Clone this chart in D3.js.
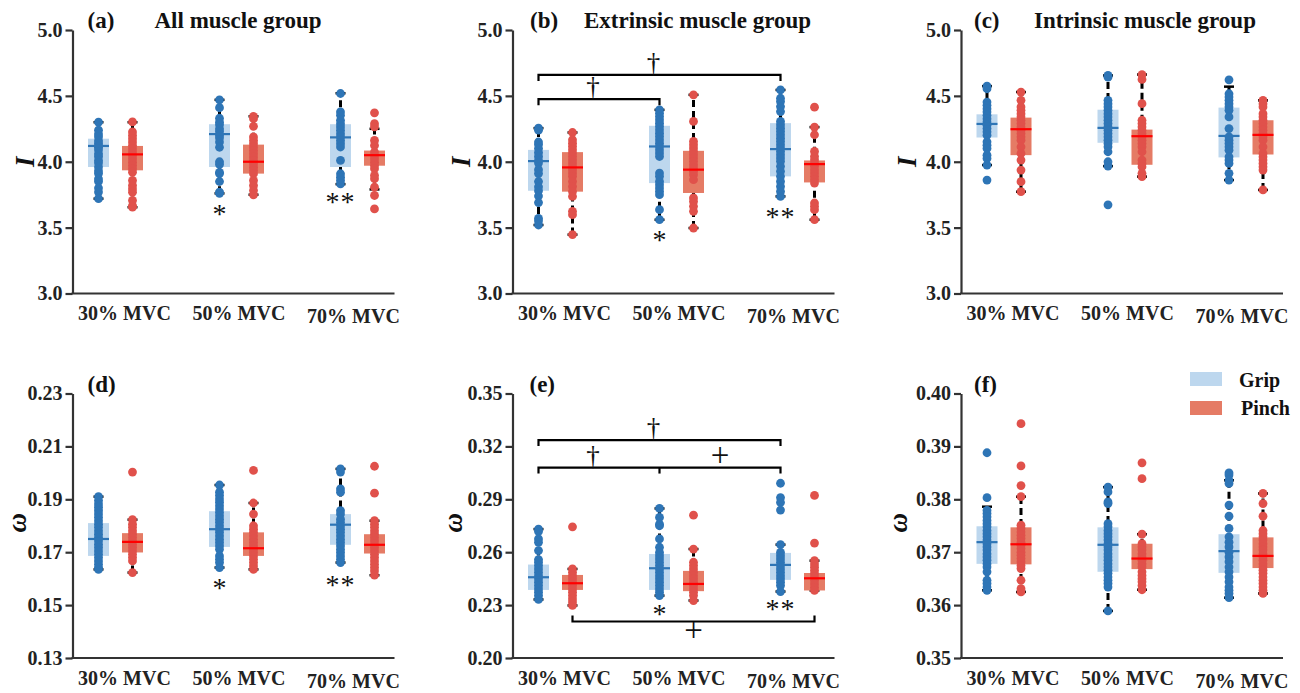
<!DOCTYPE html>
<html><head><meta charset="utf-8">
<script src="https://cdn.jsdelivr.net/npm/d3@7"></script>
<style>body{margin:0;background:#fff}svg{display:block}</style>
</head><body>
<svg id="chart" width="1300" height="693"></svg>
<script>
// ---------------- DATA ----------------
const categories = ["30% MVC", "50% MVC", "70% MVC"];
const series = ["Grip", "Pinch"];
const panelLetters = ["(a)", "(b)", "(c)", "(d)", "(e)", "(f)"];
const panelTitles = ["All muscle group", "Extrinsic muscle group", "Intrinsic muscle group", "", "", ""];
const yLabels = ["I", "I", "I", "ω", "ω", "ω"];
const yDomains = [[3, 5], [3, 5], [3, 5], [0.13, 0.23], [0.20, 0.35], [0.35, 0.40]];
const yTicks = [
  [3.0, 3.5, 4.0, 4.5, 5.0], [3.0, 3.5, 4.0, 4.5, 5.0], [3.0, 3.5, 4.0, 4.5, 5.0],
  [0.13, 0.15, 0.17, 0.19, 0.21, 0.23], [0.20, 0.23, 0.26, 0.29, 0.32, 0.35],
  [0.35, 0.36, 0.37, 0.38, 0.39, 0.40]
];
const tickFormats = [".1f", ".1f", ".1f", ".2f", ".2f", ".2f"];

// points per panel: [30%, 50%, 70%]
const gripA = [
  [4.30, 4.24, 4.21, 4.19, 4.16, 4.14, 4.12, 4.11, 4.09, 4.06, 4.04, 4.01, 3.99, 3.96, 3.93, 3.91, 3.87, 3.85, 3.80, 3.77, 3.72],
  [4.47, 4.41, 4.33, 4.30, 4.28, 4.25, 4.23, 4.20, 4.18, 4.15, 4.11, 4.00, 3.98, 3.92, 3.91, 3.85, 3.77, 3.76],
  [4.518, 4.378, 4.353, 4.315, 4.289, 4.264, 4.239, 4.213, 4.188, 4.162, 4.137, 4.112, 4.01, 3.909, 3.883, 3.858, 3.832]
];
const pinchA = [
  [4.302, 4.226, 4.2, 4.175, 4.15, 4.124, 4.099, 4.074, 4.048, 4.023, 3.997, 3.972, 3.947, 3.921, 3.858, 3.82, 3.794, 3.769, 3.706, 3.668, 3.655],
  [4.345, 4.327, 4.269, 4.188, 4.162, 4.137, 4.112, 4.086, 4.061, 4.036, 4.01, 3.985, 3.959, 3.934, 3.909, 3.858, 3.82, 3.782, 3.749],
  [4.371, 4.289, 4.264, 4.162, 4.124, 4.074, 4.048, 4.023, 3.997, 3.972, 3.947, 3.896, 3.871, 3.807, 3.744, 3.642]
];
const gripB = [
  [4.255, 4.24, 4.15, 4.13, 4.10, 4.07, 4.04, 4.01, 3.99, 3.94, 3.91, 3.85, 3.81, 3.78, 3.74, 3.69, 3.57, 3.55, 3.52],
  [4.394, 4.369, 4.343, 4.318, 4.293, 4.268, 4.242, 4.217, 4.192, 4.167, 4.141, 4.116, 4.091, 4.066, 4.04, 3.914, 3.889, 3.851, 3.826, 3.8, 3.775, 3.75, 3.636, 3.56],
  [4.545, 4.482, 4.457, 4.419, 4.381, 4.306, 4.28, 4.255, 4.23, 4.205, 4.179, 4.154, 4.129, 4.104, 4.078, 4.053, 4.028, 4.003, 3.965, 3.927, 3.889, 3.851, 3.813, 3.775, 3.737]
];
const pinchB = [
  [4.222, 4.167, 4.141, 4.116, 4.091, 4.066, 4.040, 4.015, 3.99, 3.965, 3.94, 3.914, 3.889, 3.851, 3.813, 3.775, 3.737, 3.624, 3.598, 3.447],
  [4.508, 4.306, 4.154, 4.129, 4.104, 4.078, 4.053, 4.028, 4.003, 3.977, 3.952, 3.927, 3.902, 3.864, 3.725, 3.699, 3.662, 3.624, 3.497],
  [4.414, 4.263, 4.205, 4.078, 4.04, 4.015, 3.99, 3.965, 3.939, 3.914, 3.889, 3.864, 3.838, 3.687, 3.662, 3.636, 3.56]
];
const gripC = [
  [4.574, 4.554, 4.453, 4.428, 4.403, 4.378, 4.353, 4.327, 4.302, 4.277, 4.252, 4.227, 4.202, 4.151, 4.126, 4.101, 4.05, 4.025, 3.975, 3.861],
  [4.655, 4.642, 4.466, 4.441, 4.416, 4.39, 4.365, 4.34, 4.315, 4.29, 4.264, 4.239, 4.214, 4.189, 4.164, 4.139, 4.113, 4.076, 4.0, 3.967, 3.673],
  [4.622, 4.516, 4.491, 4.466, 4.441, 4.416, 4.39, 4.34, 4.252, 4.189, 4.164, 4.139, 4.113, 4.088, 4.038, 4.013, 3.987, 3.912, 3.861]
];
const pinchC = [
  [4.529, 4.466, 4.416, 4.39, 4.365, 4.34, 4.315, 4.29, 4.264, 4.239, 4.214, 4.189, 4.164, 4.113, 4.063, 4.013, 3.937, 3.849, 3.773],
  [4.662, 4.625, 4.441, 4.315, 4.29, 4.264, 4.239, 4.214, 4.189, 4.164, 4.139, 4.113, 4.076, 4.013, 3.987, 3.962, 3.912, 3.887],
  [4.466, 4.441, 4.416, 4.365, 4.34, 4.315, 4.29, 4.264, 4.239, 4.214, 4.189, 4.164, 4.113, 4.063, 4.038, 4.013, 3.987, 3.962, 3.937, 3.786]
];
const gripD = [
  [0.1910, 0.1895, 0.1882, 0.1870, 0.1857, 0.1844, 0.1832, 0.1819, 0.1806, 0.1794, 0.1781, 0.1768, 0.1756, 0.1743, 0.1730, 0.1718, 0.1705, 0.1692, 0.1680, 0.1667, 0.1654, 0.1642, 0.1635],
  [0.1954, 0.1927, 0.1914, 0.1901, 0.1889, 0.1876, 0.1863, 0.1851, 0.1838, 0.1825, 0.1813, 0.1800, 0.1787, 0.1775, 0.1762, 0.1749, 0.1737, 0.1724, 0.1711, 0.1686, 0.1673, 0.1661, 0.1642],
  [0.2015, 0.2003, 0.1939, 0.1927, 0.1857, 0.1844, 0.1825, 0.1813, 0.1800, 0.1787, 0.1775, 0.1762, 0.1749, 0.1737, 0.1724, 0.1711, 0.1699, 0.1686, 0.1673, 0.1661]
];
const pinchD = [
  [0.2003, 0.1823, 0.1806, 0.1794, 0.1781, 0.1768, 0.1756, 0.1743, 0.1730, 0.1718, 0.1705, 0.1692, 0.1680, 0.1667, 0.1623],
  [0.2009, 0.1886, 0.1844, 0.1800, 0.1787, 0.1775, 0.1762, 0.1749, 0.1737, 0.1724, 0.1711, 0.1699, 0.1686, 0.1673, 0.1661, 0.1648, 0.1635],
  [0.2025, 0.1923, 0.1819, 0.1806, 0.1794, 0.1781, 0.1768, 0.1756, 0.1743, 0.1730, 0.1718, 0.1705, 0.1692, 0.1680, 0.1667, 0.1654, 0.1642, 0.1629, 0.1613]
];
const gripE = [
  [0.2731, 0.2718, 0.2675, 0.2656, 0.2609, 0.2558, 0.2543, 0.2524, 0.2505, 0.2486, 0.2467, 0.2449, 0.2430, 0.2411, 0.2392, 0.2373, 0.2354, 0.2332],
  [0.2848, 0.2797, 0.2759, 0.2750, 0.2675, 0.2628, 0.2599, 0.2580, 0.2562, 0.2543, 0.2524, 0.2505, 0.2486, 0.2467, 0.2449, 0.2430, 0.2411, 0.2392, 0.2373, 0.2354],
  [0.2991, 0.2910, 0.2882, 0.2839, 0.2643, 0.2599, 0.2580, 0.2562, 0.2543, 0.2524, 0.2505, 0.2486, 0.2467, 0.2449, 0.2430, 0.2411, 0.2377]
];
const pinchE = [
  [0.2744, 0.2505, 0.2486, 0.2467, 0.2449, 0.2430, 0.2411, 0.2392, 0.2373, 0.2354, 0.2335, 0.2317, 0.2298],
  [0.2810, 0.2618, 0.2543, 0.2524, 0.2505, 0.2486, 0.2467, 0.2449, 0.2430, 0.2411, 0.2392, 0.2373, 0.2354, 0.2326],
  [0.2922, 0.2652, 0.2552, 0.2533, 0.2515, 0.2496, 0.2477, 0.2458, 0.2439, 0.2420, 0.2401, 0.2383]
];
const gripF = [
  [0.3888, 0.3803, 0.3779, 0.3773, 0.3767, 0.3760, 0.3754, 0.3748, 0.3741, 0.3735, 0.3729, 0.3723, 0.3716, 0.3710, 0.3704, 0.3697, 0.3691, 0.3685, 0.3678, 0.3672, 0.3663, 0.3647, 0.3641, 0.3634, 0.3628],
  [0.3823, 0.3814, 0.3795, 0.3792, 0.3754, 0.3748, 0.3741, 0.3735, 0.3729, 0.3723, 0.3716, 0.3710, 0.3704, 0.3697, 0.3691, 0.3685, 0.3678, 0.3672, 0.3666, 0.3660, 0.3653, 0.3647, 0.3641, 0.3634, 0.3589],
  [0.3850, 0.3846, 0.3836, 0.3830, 0.3789, 0.3768, 0.3745, 0.3729, 0.3719, 0.3710, 0.3700, 0.3691, 0.3682, 0.3672, 0.3663, 0.3653, 0.3644, 0.3634, 0.3628, 0.3622, 0.3614]
];
const pinchF = [
  [0.3943, 0.3863, 0.3826, 0.3805, 0.3751, 0.3745, 0.3738, 0.3732, 0.3726, 0.3719, 0.3713, 0.3707, 0.3700, 0.3694, 0.3688, 0.3682, 0.3675, 0.3669, 0.3647, 0.3631, 0.3625],
  [0.3869, 0.3839, 0.3734, 0.3716, 0.3710, 0.3704, 0.3697, 0.3691, 0.3685, 0.3678, 0.3672, 0.3663, 0.3656, 0.3650, 0.3644, 0.3637, 0.3629],
  [0.3811, 0.3792, 0.3768, 0.3741, 0.3735, 0.3729, 0.3723, 0.3716, 0.3710, 0.3704, 0.3697, 0.3691, 0.3685, 0.3678, 0.3672, 0.3666, 0.3660, 0.3653, 0.3647, 0.3641, 0.3634, 0.3628, 0.3622]
];

// box stats: [q1, median, q3, whiskerLow, whiskerHigh]
const gripBoxA = [[3.96, 4.12, 4.175, 3.72, 4.30], [3.96, 4.21, 4.285, 3.76, 4.47], [3.96, 4.185, 4.285, 3.83, 4.52]];
const pinchBoxA = [[3.935, 4.056, 4.12, 3.655, 4.30], [3.91, 4.0, 4.13, 3.75, 4.345], [3.97, 4.05, 4.085, 3.79, 4.25]];
const gripBoxB = [[3.78, 4.005, 4.09, 3.52, 4.255], [3.838, 4.116, 4.273, 3.56, 4.394], [3.889, 4.096, 4.293, 3.737, 4.545]];
const pinchBoxB = [[3.773, 3.957, 4.073, 3.447, 4.222], [3.763, 3.94, 4.083, 3.497, 4.508], [3.843, 3.982, 4.01, 3.56, 4.263]];
const gripBoxC = [[4.184, 4.287, 4.36, 3.975, 4.574], [4.144, 4.257, 4.395, 3.967, 4.655], [4.033, 4.196, 4.411, 3.861, 4.57]];
const pinchBoxC = [[4.05, 4.247, 4.335, 3.773, 4.529], [3.977, 4.194, 4.244, 3.887, 4.662], [4.055, 4.204, 4.315, 3.786, 4.466]];
const gripBoxD = [[0.1686, 0.175, 0.181, 0.1635, 0.191], [0.172, 0.1787, 0.1855, 0.1642, 0.1954], [0.1728, 0.1804, 0.1844, 0.1661, 0.2015]];
const pinchBoxD = [[0.1699, 0.1739, 0.1772, 0.1623, 0.1823], [0.1686, 0.1715, 0.1775, 0.1635, 0.1886], [0.1695, 0.1728, 0.1768, 0.1613, 0.1819]];
const gripBoxE = [[0.2386, 0.2458, 0.253, 0.2332, 0.2731], [0.2386, 0.2509, 0.259, 0.2354, 0.2848], [0.2443, 0.2528, 0.2596, 0.2377, 0.2643]];
const pinchBoxE = [[0.2386, 0.2424, 0.2471, 0.2298, 0.2505], [0.2379, 0.242, 0.2494, 0.2326, 0.2618], [0.2383, 0.2452, 0.2482, 0.2383, 0.2552]];
const gripBoxF = [[0.3678, 0.3719, 0.3749, 0.3628, 0.3786], [0.3663, 0.3714, 0.3747, 0.3589, 0.3823], [0.3661, 0.3702, 0.3734, 0.3614, 0.3836]];
const pinchBoxF = [[0.3677, 0.3715, 0.3747, 0.3625, 0.3805], [0.3668, 0.3688, 0.3716, 0.3629, 0.3734], [0.367, 0.3693, 0.3728, 0.3622, 0.3811]];

// significance marks: [panel, category index, series index, text, value]
const starMarks = [
  [0, 1, 0, "*", 3.643], [0, 2, 0, "**", 3.73],
  [1, 1, 0, "*", 3.444], [1, 2, 0, "**", 3.619],
  [3, 1, 0, "*", 0.1584], [3, 2, 0, "**", 0.1595],
  [4, 1, 0, "*", 0.2278], [4, 2, 0, "**", 0.2306]
];
// brackets: [panel, value, [cat,series] from, [cat,series] to, middle tick [cat,series] or null, tick direction (1 = down, -1 = up)]
const brackets = [
  [1, 4.659, [0, 0], [2, 0], null, 1],
  [1, 4.475, [0, 0], [1, 0], null, 1],
  [4, 0.3236, [0, 0], [2, 0], null, 1],
  [4, 0.308, [0, 0], [2, 0], [1, 0], 1],
  [4, 0.2207, [0, 1], [2, 1], null, -1]
];
// bracket symbols: [panel, text, value (line or center), [cat,series] from, [cat,series] to]
const bracketSymbols = [
  [1, "†", 4.659, [0, 0], [2, 0]],
  [1, "†", 4.475, [0, 0], [1, 0]],
  [4, "†", 0.3236, [0, 0], [2, 0]],
  [4, "†", 0.308, [0, 0], [1, 0]],
  [4, "+", 0.3136, [1, 0], [2, 0]],
  [4, "+", 0.2143, [0, 1], [2, 1]]
];

// ---------------- LAYOUT / STYLE ----------------
const FONT = "'Liberation Serif','Times New Roman',serif";
const lefts = [72.5, 512.5, 961, 72.5, 512.5, 961];
const tops = [30, 30, 30, 393.5, 393.5, 393.5];
const bottoms = [293.5, 293.5, 293.5, 658, 658, 658];
const plotW = 322;
const letterX = [15, 17.5, 13, 15, 17, 13];
const letterY = [28, 28, 28, 392, 392, 392];
const titleX = [82, 71.5, 73];
const yLabelX = [-47.5, -51.5, -54, -56, -60, -63];
const colors = {
  Grip: {pt: "#2e75b6", box: "#bdd7ee", med: "#2e75b6"},
  Pinch: {pt: "#e0514b", box: "#e57b65", med: "#ff0000"}
};

const gripPts = [gripA, gripB, gripC, gripD, gripE, gripF];
const pinchPts = [pinchA, pinchB, pinchC, pinchD, pinchE, pinchF];
const gripBoxes = [gripBoxA, gripBoxB, gripBoxC, gripBoxD, gripBoxE, gripBoxF];
const pinchBoxes = [pinchBoxA, pinchBoxB, pinchBoxC, pinchBoxD, pinchBoxE, pinchBoxF];

const svg = d3.select("#chart");
const xGroup = d3.scalePoint().domain(categories).range([43, 285]);
const xSub = d3.scalePoint().domain(series).range([-17, 17]);
const xLabel = d3.scalePoint().domain(categories).range([52, 281]);
const boxW = 21;

for (let p = 0; p < 6; p++) {
  const g = svg.append("g").attr("transform", `translate(${lefts[p]},0)`);
  const y = d3.scaleLinear().domain(yDomains[p]).range([bottoms[p], tops[p]]);
  const xp = (ci, si) => xGroup(categories[ci]) + xSub(series[si]);

  // y axis
  const ax = g.append("g").call(d3.axisLeft(y).tickValues(yTicks[p]).tickFormat(d3.format(tickFormats[p])).tickSize(7).tickSizeOuter(0).tickPadding(3));
  ax.select(".domain").attr("stroke", "#333").attr("stroke-width", 2.2);
  ax.selectAll(".tick line").attr("stroke", "#333").attr("stroke-width", 2.2);
  ax.selectAll(".tick text").attr("font-family", FONT).attr("font-weight", "bold").attr("font-size", 20).attr("fill", "#222");
  // x axis line
  g.append("line").attr("x1", -1).attr("x2", plotW).attr("y1", bottoms[p]).attr("y2", bottoms[p])
    .attr("stroke", "#333").attr("stroke-width", 2.2);
  // category labels
  g.selectAll(".cat").data(categories).join("text")
    .attr("x", d => xLabel(d)).attr("y", (d, i) => bottoms[p] + 26.5 + (i === 2 ? 3 : 0))
    .attr("text-anchor", "middle").attr("font-family", FONT).attr("font-weight", "bold").attr("font-size", 20).attr("fill", "#222")
    .text(d => d);
  // y label
  const ymid = (tops[p] + bottoms[p]) / 2 - (p >= 3 ? 3 : 0);
  g.append("text").attr("transform", `translate(${yLabelX[p]},${ymid}) rotate(-90)`)
    .attr("text-anchor", "middle").attr("dominant-baseline", "central")
    .attr("font-family", FONT).attr("font-weight", "bold").attr("font-style", "italic").attr("font-size", 27).attr("fill", "#111")
    .text(yLabels[p]);
  // panel letter & title
  g.append("text").attr("x", letterX[p]).attr("y", letterY[p]).attr("font-family", FONT).attr("font-weight", "bold")
    .attr("font-size", 23).attr("fill", "#111").text(panelLetters[p]);
  if (panelTitles[p]) {
    g.append("text").attr("x", titleX[p]).attr("y", 28).attr("font-family", FONT).attr("font-weight", "bold")
      .attr("font-size", 23).attr("fill", "#111").text(panelTitles[p]);
  }

  // boxes
  [gripBoxes[p], pinchBoxes[p]].forEach((boxes, si) => {
    const col = colors[series[si]];
    const pts = si === 0 ? gripPts[p] : pinchPts[p];
    boxes.forEach((b, ci) => {
      const cx = xp(ci, si);
      const [q1, med, q3, lo, hi] = b;
      g.append("line").attr("x1", cx).attr("x2", cx).attr("y1", y(lo)).attr("y2", y(hi))
        .attr("stroke", "#000").attr("stroke-width", 3).attr("stroke-dasharray", "7,4");
      [lo, hi].forEach(v => g.append("line").attr("x1", cx - 5).attr("x2", cx + 5).attr("y1", y(v)).attr("y2", y(v))
        .attr("stroke", "#000").attr("stroke-width", 2.5));
      g.append("rect").attr("x", cx - boxW / 2).attr("width", boxW).attr("y", y(q3)).attr("height", y(q1) - y(q3))
        .attr("fill", col.box);
      g.selectAll(null).data(pts[ci]).join("circle")
        .attr("cx", cx).attr("cy", d => y(d)).attr("r", 4.4).attr("fill", col.pt);
      g.append("line").attr("x1", cx - boxW / 2).attr("x2", cx + boxW / 2).attr("y1", y(med)).attr("y2", y(med))
        .attr("stroke", col.med).attr("stroke-width", 2.2);
    });
  });

  // stars
  starMarks.filter(s => s[0] === p).forEach(s => {
    g.append("text").attr("x", xp(s[1], s[2])).attr("y", y(s[4]) + 14).attr("text-anchor", "middle")
      .attr("font-family", FONT).attr("font-size", 28).attr("letter-spacing", s[3].length > 1 ? 1 : 0)
      .attr("fill", "#111").text(s[3]);
  });
  // brackets
  brackets.filter(b => b[0] === p).forEach(b => {
    const yy = y(b[1]), x1 = xp(...b[2]), x2 = xp(...b[3]), t = 6 * b[5];
    const pts = [[x1, yy + t], [x1, yy], [x2, yy], [x2, yy + t]];
    g.append("path").attr("d", d3.line()(pts)).attr("fill", "none").attr("stroke", "#000").attr("stroke-width", 2.2);
    if (b[4]) {
      const xm = xp(...b[4]);
      g.append("line").attr("x1", xm).attr("x2", xm).attr("y1", yy).attr("y2", yy + t).attr("stroke", "#000").attr("stroke-width", 2.2);
    }
  });
  bracketSymbols.filter(s => s[0] === p).forEach(s => {
    const xm = (xp(...s[3]) + xp(...s[4])) / 2;
    if (s[1] === "†") {
      g.append("text").attr("x", xm - 6).attr("y", y(s[2]) - 3).attr("text-anchor", "middle")
        .attr("font-family", FONT).attr("font-size", 27).attr("fill", "#111").text(s[1]);
    } else {
      g.append("text").attr("x", xm).attr("y", y(s[2]) + 8.5).attr("text-anchor", "middle")
        .attr("font-family", FONT).attr("font-size", 33).attr("fill", "#111").text(s[1]);
    }
  });
}

// legend
const leg = svg.append("g");
series.forEach((s, i) => {
  leg.append("rect").attr("x", 1190).attr("y", 372 + i * 29).attr("width", 32).attr("height", 14).attr("fill", colors[s].box);
  leg.append("text").attr("x", 1239 + i * 2).attr("y", 387 + i * 28).attr("font-family", FONT).attr("font-weight", "bold")
    .attr("font-size", 20).attr("fill", "#111").text(s);
});
</script>
</body></html>
